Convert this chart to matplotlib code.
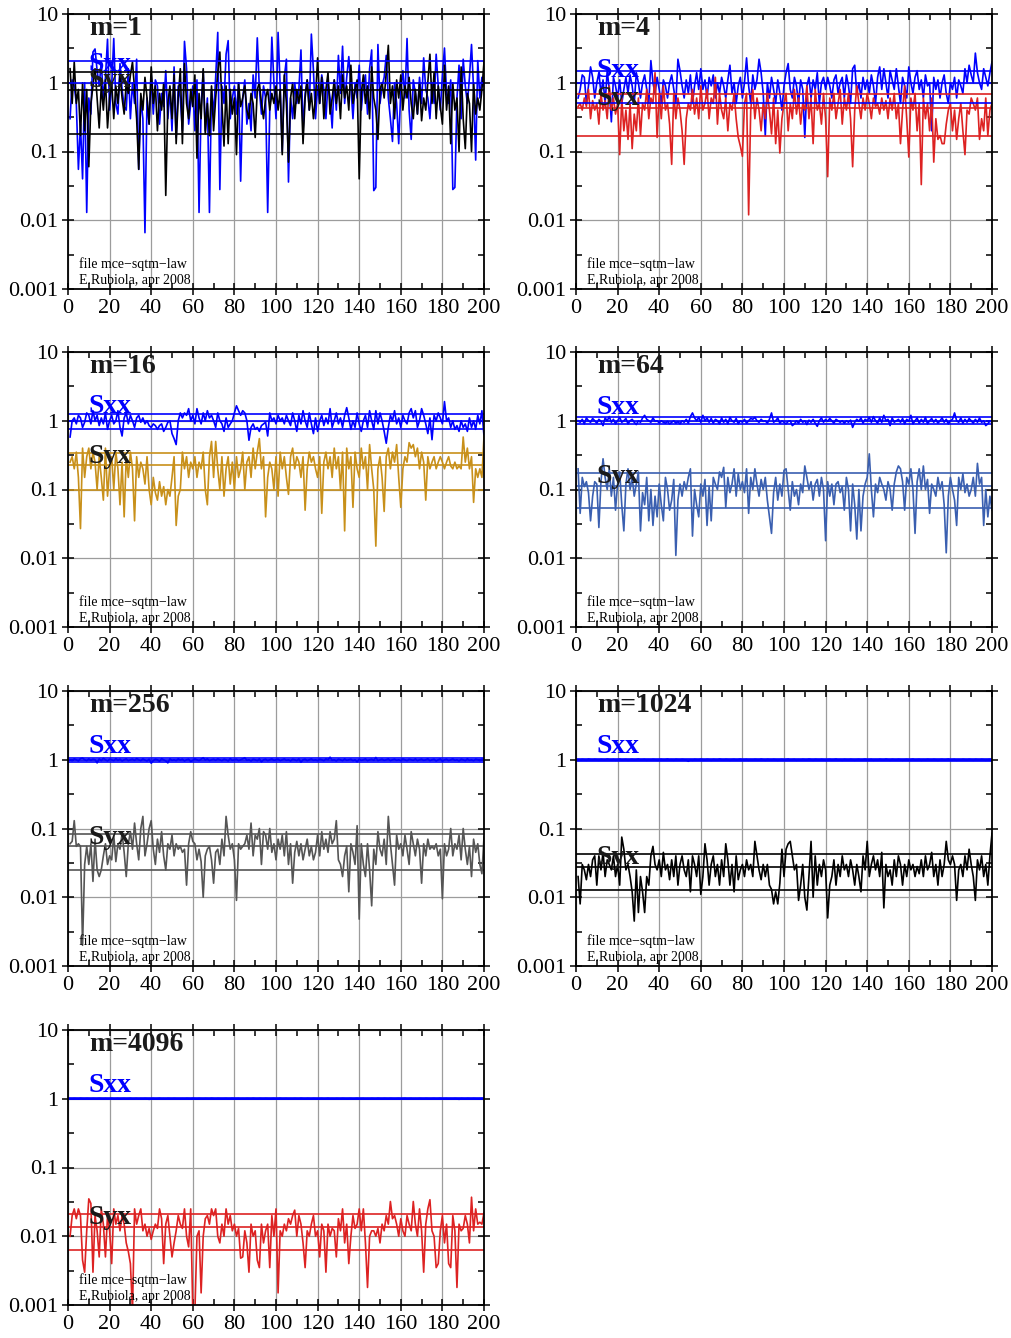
import numpy as np
import matplotlib
matplotlib.use("Agg")
import matplotlib.pyplot as plt
from matplotlib.ticker import FixedLocator, MultipleLocator, NullFormatter

plt.rcParams["font.family"] = ["Liberation Serif", "DejaVu Serif"]

# ---- data ----
m_values = [1, 4, 16, 64, 256, 1024, 4096]
syx_colors = ["black", "#dd2222", "#c8901a", "#3a5fb0", "#555555", "black", "#dd2222"]

sxx_m1 = [0.3, 1.1, 0.9, 0.5, 0.055, 0.25, 0.04, 1.0, 0.013, 0.6,
          0.35, 2.8, 3.1, 1.5, 0.9, 2.0, 0.6, 1.2, 4.3, 0.4,
          0.9, 4.4, 0.5, 0.35, 1.9, 0.8, 0.45, 0.4, 1.6, 0.3,
          1.0, 0.5, 2.2, 0.055, 0.6, 0.3, 0.0066, 0.6, 0.25, 1.3,
          0.35, 1.1, 0.9, 0.25, 0.7, 0.45, 1.5, 0.3, 0.8, 0.2,
          1.7, 0.16, 0.9, 0.6, 0.2, 4.0, 1.6, 0.25, 0.5, 0.9,
          0.2, 1.1, 0.013, 0.45, 1.5, 0.2, 0.6, 0.013, 0.8, 0.35,
          1.2, 5.4, 0.028, 0.9, 0.5, 2.6, 4.1, 0.3, 0.6, 0.9,
          0.35, 1.0, 0.037, 0.6, 1.1, 0.25, 0.5, 0.2, 1.3, 0.6,
          4.5, 0.8, 0.35, 0.9, 0.6, 0.013, 0.4, 4.6, 1.0, 0.3,
          5.4, 0.9, 0.1, 1.2, 2.2, 0.036, 0.6, 0.3, 1.0, 0.5,
          0.8, 3.0, 0.2, 0.7, 1.1, 0.4, 5.1, 1.5, 0.3, 0.9,
          0.5, 1.3, 0.8, 0.3, 1.0, 0.6, 0.22, 1.1, 0.4, 2.5,
          0.7, 3.4, 0.5, 1.2, 2.4, 0.9, 0.3, 1.0, 0.6, 1.8,
          0.4, 0.9, 1.3, 0.35, 1.6, 3.0, 0.027, 0.03, 3.6, 0.5,
          0.9, 1.2, 2.5, 0.6, 0.3, 0.14, 1.0, 0.5, 0.13, 0.8,
          1.5, 0.6, 4.4, 0.4, 0.15, 1.1, 0.7, 0.35, 1.2, 0.5,
          2.3, 0.8, 0.6, 0.3, 1.0, 0.5, 2.6, 0.9, 0.4, 1.3,
          3.2, 0.7, 0.5, 1.1, 0.028, 0.03, 0.6, 1.8, 0.3, 2.2,
          0.9, 0.5, 1.2, 3.6, 0.8, 0.075, 2.1, 0.6, 1.2, 0.9]

syx_m1 = [1.6, 0.5, 2.0, 0.5, 0.8, 0.17, 1.0, 0.2, 0.8, 0.06,
          0.5, 0.9, 1.6, 0.6, 0.22, 0.9, 0.4, 1.1, 0.22, 0.6,
          1.0, 0.3, 0.9, 0.5, 1.3, 0.6, 0.35, 1.0, 0.7, 1.3,
          2.0, 0.8, 0.3, 0.055, 0.7, 0.4, 1.2, 0.6, 0.25, 1.7,
          0.5, 0.9, 0.2, 0.7, 0.4, 1.0, 0.023, 0.5, 0.9, 0.3,
          1.3, 0.13, 0.6, 1.6, 0.13, 1.9, 0.5, 0.3, 0.8, 0.45,
          1.3, 0.08, 0.7, 0.3, 1.6, 0.18, 0.5, 0.17, 0.9, 0.2,
          0.6, 1.4, 2.8, 0.5, 0.12, 0.9, 0.13, 0.8, 0.35, 0.6,
          0.09, 1.0, 0.45, 0.6, 0.9, 0.4, 0.3, 0.7, 0.5, 0.16,
          0.8, 1.0, 0.5, 0.3, 0.6, 0.8, 0.4, 0.7, 0.5, 0.9,
          0.4, 0.8, 0.09, 1.3, 0.5, 0.07, 0.6, 1.0, 0.3, 0.8,
          0.5, 0.9, 0.13, 0.6, 1.1, 0.4, 0.7, 0.3, 0.6, 2.3,
          0.5, 1.2, 0.3, 0.8, 1.4, 0.35, 0.6, 1.1, 0.5, 0.9,
          0.3, 1.3, 0.6, 0.9, 0.4, 1.8, 0.5, 0.8, 1.1, 0.04,
          0.7, 1.3, 0.5, 0.9, 0.3, 1.7, 0.6, 0.4, 0.15, 0.8,
          1.0, 0.6, 1.4, 3.5, 0.5, 0.9, 0.3, 1.1, 0.6, 1.3,
          0.4, 0.9, 0.6, 1.2, 0.5, 0.3, 0.8, 0.35, 1.0, 0.28,
          0.6, 0.4, 1.0, 2.6, 0.5, 1.4, 0.3, 0.9, 0.45, 0.25,
          1.8, 0.4, 0.9, 0.13, 1.0, 0.4, 0.6, 0.1, 1.7, 0.3,
          0.11, 0.7, 0.5, 0.1, 1.0, 0.35, 0.6, 0.4, 0.8, 2.0]

sxx_m4 = [0.6, 0.8, 1.3, 1.2, 0.5, 0.9, 1.7, 1.2, 0.6, 1.0,
          1.4, 0.7, 1.1, 0.5, 1.5, 0.8, 0.27, 1.2, 0.9, 0.6,
          1.1, 0.5, 0.8, 1.2, 0.7, 1.3, 0.9, 0.5, 1.4, 1.0,
          0.6, 1.0, 1.3, 0.8, 0.5, 2.1, 1.0, 0.7, 1.2, 0.8,
          0.5, 1.1, 0.9, 0.6, 1.0, 1.3, 0.8, 0.5, 2.2, 1.5,
          0.9, 0.6, 1.1, 0.7, 1.3, 0.5, 0.9, 1.4, 0.8, 1.6,
          0.8, 1.1, 0.6, 1.2, 0.9, 1.3, 0.6, 1.0, 0.7, 1.2,
          0.9, 0.6, 1.1, 1.8, 0.7, 1.0, 0.5, 0.9, 1.2, 0.6,
          1.0, 2.3, 0.9, 0.5, 1.3, 0.8, 1.1, 2.2, 1.4, 0.7,
          0.17, 1.0, 0.6, 1.2, 0.8, 0.5, 1.1, 0.7, 0.4, 0.9,
          1.4, 1.9, 0.8, 0.6, 1.2, 0.9, 0.5, 1.1, 0.8, 0.16,
          0.9, 1.2, 0.6, 1.1, 0.8, 1.4, 0.5, 1.0, 1.2, 0.8,
          1.2, 0.9, 0.6, 1.1, 1.3, 0.7, 1.0, 1.2, 0.6, 1.3,
          0.9, 0.5, 1.6, 1.8, 0.7, 1.0, 0.6, 1.2, 0.8, 1.1,
          0.7, 1.3, 0.9, 0.5, 1.2, 1.7, 0.8, 1.6, 1.0, 0.6,
          1.5, 1.1, 0.8, 1.6, 0.9, 0.5, 1.2, 0.9, 0.6, 1.7,
          1.0, 0.7, 1.2, 1.5, 0.8, 1.1, 0.6, 1.3, 0.9, 1.0,
          0.2, 1.2, 0.8, 1.1, 0.6, 1.0, 1.3, 0.7, 0.5, 1.0,
          0.8, 1.2, 0.6, 1.1, 0.9, 0.7, 1.6, 1.0, 1.8, 1.3,
          1.0, 2.7, 1.4, 1.0, 0.8, 1.6, 1.2, 0.9, 1.4, 2.0]

syx_m4 = [0.45, 0.5, 0.4, 0.6, 0.45, 0.8, 0.3, 0.55, 0.4, 0.5,
          0.25, 0.7, 0.4, 0.55, 0.3, 0.9, 0.4, 0.6, 0.35, 0.5,
          0.09, 0.6, 0.2, 0.4, 0.15, 0.5, 0.11, 0.35, 0.2, 0.6,
          0.17, 0.5, 0.4, 0.8, 0.3, 0.6, 0.5, 1.4, 0.16, 0.7,
          0.3, 0.9, 0.4, 0.5, 0.25, 0.065, 0.7, 0.3, 0.6, 0.4,
          0.2, 0.065, 0.3, 0.5, 0.4, 0.8, 0.35, 0.6, 0.3, 0.9,
          0.4, 0.5, 0.8, 0.3, 0.6, 0.5, 1.2, 0.25, 0.7, 0.4,
          0.3, 0.6, 0.2, 0.5, 0.4, 0.7, 0.3, 0.16, 0.12, 0.085,
          0.5, 0.7, 0.012, 0.4, 0.8, 0.3, 0.6, 0.4, 0.2, 0.5,
          0.3, 0.7, 0.4, 0.18, 0.6, 0.13, 0.4, 0.095, 0.3, 0.5,
          0.7, 0.2, 0.5, 0.3, 0.8, 0.35, 0.6, 0.25, 0.5, 0.4,
          0.9, 0.3, 0.6, 0.13, 0.8, 0.4, 0.5, 0.25, 0.7, 0.3,
          0.043, 0.6, 0.4, 0.7, 0.3, 0.5, 0.8, 0.25, 0.6, 0.4,
          0.7, 0.3, 0.06, 0.4, 0.9, 0.5, 0.3, 0.6, 0.4, 0.7,
          0.5, 0.3, 0.6, 0.45, 0.5, 0.35, 0.6, 0.4, 0.55, 0.3,
          0.6, 0.4, 0.7, 0.3, 0.5, 0.13, 0.4, 0.9, 0.3, 0.083,
          0.6, 0.4, 0.7, 0.2, 0.5, 0.033, 0.6, 0.3, 0.5, 0.2,
          0.6, 0.07, 0.3, 0.15, 0.17, 0.13, 0.13, 0.25, 0.4, 0.5,
          0.2, 0.4, 0.15, 0.3, 0.5, 0.2, 0.09, 0.4, 0.35, 0.6,
          0.5, 0.4, 0.6, 0.15, 0.3, 0.2, 0.6, 0.17, 0.4, 0.5]

sxx_m16 = [0.58, 1.0, 1.1, 0.9, 1.2, 1.1, 0.8, 0.95, 1.3, 1.2,
           0.9, 1.4, 1.0, 1.2, 0.85, 1.1, 0.9, 1.3, 0.75, 1.0,
           1.2, 0.9, 1.0, 1.4, 0.8, 0.6, 1.1, 1.3, 0.9, 1.2,
           1.0, 0.8, 1.1, 1.2, 0.95, 1.1, 0.9, 1.0, 0.85, 0.8,
           0.9, 0.85, 0.75, 0.85, 0.9, 0.7, 0.8, 0.95, 1.0, 0.65,
           0.55, 0.45, 1.0, 1.3, 1.1, 1.3, 1.2, 1.5, 1.0, 1.2,
           0.9, 1.5, 1.1, 0.9, 1.3, 1.0, 1.4, 1.1, 1.2, 1.0,
           0.8, 1.3, 1.0, 0.9, 0.7, 1.1, 0.8, 0.9, 1.0, 1.3,
           1.65, 1.4, 1.2, 1.4, 1.3, 1.0, 0.52, 0.8, 0.9, 0.75,
           0.8, 0.7, 0.85, 0.9, 0.95, 0.6, 1.3, 1.0, 1.1, 0.9,
           1.2, 1.0, 1.1, 0.9, 1.2, 1.0, 0.85, 1.3, 1.0, 0.7,
           1.2, 0.9, 1.4, 1.0, 0.8, 1.3, 0.9, 0.65, 1.1, 0.7,
           1.0, 1.2, 0.85, 1.1, 0.9, 1.5, 0.8, 1.0, 1.3, 0.9,
           1.1, 0.8, 1.2, 1.55, 1.1, 0.75, 1.0, 0.8, 1.3, 0.9,
           0.7, 1.0, 1.2, 0.8, 1.4, 1.0, 0.75, 1.4, 0.9, 1.3,
           1.0, 0.7, 0.47, 0.8, 1.2, 1.0, 1.4, 0.9, 1.1, 0.8,
           1.2, 1.0, 0.9, 1.3, 1.5, 1.1, 1.4, 0.8, 1.0, 1.5,
           1.2, 0.9, 0.65, 1.1, 0.53, 1.2, 1.0, 1.3, 1.1, 0.9,
           1.9, 1.0, 1.1, 0.8, 1.0, 0.75, 0.85, 0.7, 1.0, 0.8,
           0.9, 0.7, 1.1, 0.8, 1.0, 0.75, 1.2, 0.9, 1.4, 0.6]

syx_m16 = [0.25, 0.3, 0.2, 0.35, 0.15, 0.027, 0.4, 0.15, 0.3, 0.4,
           0.2, 0.35, 0.25, 0.1, 0.3, 0.15, 0.07, 0.4, 0.08, 0.2,
           0.3, 0.1, 0.35, 0.2, 0.06, 0.25, 0.04, 0.3, 0.15, 0.35,
           0.2, 0.035, 0.3, 0.15, 0.25, 0.2, 0.12, 0.3, 0.1, 0.06,
           0.15, 0.09, 0.07, 0.13, 0.08, 0.11, 0.06, 0.1, 0.08, 0.15,
           0.3, 0.03, 0.08, 0.1, 0.35, 0.2, 0.3, 0.15, 0.25, 0.2,
           0.3, 0.15, 0.25, 0.2, 0.35, 0.1, 0.06, 0.3, 0.5, 0.15,
           0.5, 0.2, 0.1, 0.3, 0.08, 0.2, 0.3, 0.12, 0.25, 0.1,
           0.3, 0.15, 0.2, 0.35, 0.1, 0.25, 0.3, 0.15, 0.4, 0.2,
           0.35, 0.55, 0.2, 0.3, 0.04, 0.15, 0.25, 0.2, 0.1, 0.3,
           0.08, 0.35, 0.2, 0.3, 0.15, 0.085, 0.3, 0.4, 0.2, 0.3,
           0.25, 0.15, 0.3, 0.05, 0.2, 0.35, 0.25, 0.3, 0.2, 0.15,
           0.3, 0.045, 0.25, 0.35, 0.2, 0.3, 0.15, 0.4, 0.2, 0.3,
           0.1, 0.35, 0.025, 0.4, 0.2, 0.3, 0.055, 0.35, 0.2, 0.15,
           0.4, 0.2, 0.3, 0.1, 0.45, 0.2, 0.1, 0.015, 0.2, 0.3,
           0.15, 0.048, 0.3, 0.4, 0.2, 0.35, 0.25, 0.45, 0.15, 0.055,
           0.2, 0.3, 0.25, 0.48, 0.4, 0.45, 0.3, 0.4, 0.2, 0.35,
           0.25, 0.07, 0.3, 0.2, 0.25, 0.3, 0.2, 0.25, 0.3, 0.25,
           0.2, 0.25, 0.3, 0.22, 0.2, 0.25, 0.2, 0.22, 0.2, 0.58,
           0.25, 0.4, 0.2, 0.3, 0.065, 0.2, 0.15, 0.2, 0.15, 0.6]

sxx_m64 = [1.0, 0.95, 1.05, 0.9, 1.1, 1.0, 0.95, 1.08, 1.0, 0.92,
           1.05, 0.98, 0.85, 1.1, 1.0, 1.15, 0.95, 1.05, 0.9, 1.0,
           1.12, 0.95, 1.0, 1.08, 0.9, 1.0, 1.05, 0.95, 0.88, 1.0,
           0.95, 1.1, 1.2, 1.05, 1.0, 0.95, 1.1, 0.98, 1.0, 0.93,
           1.0, 0.95, 0.92, 0.98, 0.9, 0.95, 1.0, 0.92, 0.97, 0.9,
           1.0, 0.95, 1.05, 0.92, 1.15, 1.3, 1.1, 1.0, 1.12, 0.95,
           1.2, 1.0, 1.1, 0.95, 1.08, 0.92, 1.05, 1.0, 0.9, 1.1,
           0.95, 1.05, 0.9, 1.12, 1.0, 0.95, 1.08, 0.9, 1.0, 0.95,
           1.05, 0.92, 1.0, 1.08, 1.05, 1.12, 1.0, 0.95, 1.05, 0.98,
           1.0, 0.92, 1.05, 1.3, 0.95, 1.0, 1.1, 0.92, 1.0, 0.95,
           0.9, 0.98, 1.0, 0.85, 0.9, 1.0, 0.92, 1.05, 0.95, 1.0,
           0.88, 1.02, 0.95, 1.05, 0.92, 0.83, 1.0, 1.1, 0.95, 1.05,
           0.98, 1.08, 1.0, 0.92, 1.05, 1.0, 0.95, 1.0, 0.92, 1.0,
           0.95, 1.02, 0.8, 0.95, 1.05, 0.98, 1.1, 0.92, 1.05, 1.0,
           1.12, 0.95, 1.15, 1.0, 0.92, 1.1, 0.95, 1.2, 1.0, 1.05,
           0.85, 1.1, 0.95, 1.0, 1.05, 0.95, 1.08, 0.9, 1.05, 0.98,
           1.2, 0.9, 1.0, 1.1, 0.92, 1.05, 0.95, 1.12, 0.9, 1.0,
           1.08, 0.95, 1.05, 0.92, 1.0, 1.1, 0.95, 1.05, 0.9, 1.0,
           1.05, 1.3, 1.0, 0.95, 1.1, 0.92, 1.05, 0.95, 1.08, 1.0,
           0.92, 1.05, 0.95, 1.1, 0.95, 1.0, 0.85, 0.9, 1.0, 0.95]

syx_m64 = [0.2, 0.045, 0.15, 0.11, 0.13, 0.09, 0.035, 0.08, 0.13, 0.12,
           0.028, 0.13, 0.28, 0.15, 0.1, 0.2, 0.08, 0.15, 0.05, 0.12,
           0.18, 0.06, 0.025, 0.12, 0.2, 0.1, 0.15, 0.08, 0.12, 0.18,
           0.025, 0.09, 0.06, 0.15, 0.035, 0.1, 0.03, 0.08, 0.04, 0.12,
           0.06, 0.035, 0.15, 0.1, 0.05, 0.07, 0.14, 0.011, 0.07, 0.12,
           0.08, 0.13, 0.1, 0.15, 0.2, 0.021, 0.1, 0.06, 0.04, 0.12,
           0.08, 0.14, 0.03, 0.11, 0.035, 0.15, 0.12, 0.1, 0.18, 0.15,
           0.21, 0.055, 0.15, 0.09, 0.12, 0.2, 0.08, 0.17, 0.1, 0.13,
           0.09, 0.2, 0.045, 0.15, 0.1, 0.2, 0.12, 0.08, 0.14, 0.1,
           0.15, 0.07, 0.04, 0.023, 0.09, 0.15, 0.07, 0.12, 0.08, 0.19,
           0.2, 0.1, 0.05, 0.13, 0.08, 0.1, 0.06, 0.12, 0.09, 0.22,
           0.15, 0.1, 0.13, 0.07, 0.12, 0.14, 0.08, 0.15, 0.1, 0.018,
           0.13, 0.08, 0.12, 0.06, 0.12, 0.13, 0.09, 0.11, 0.05, 0.15,
           0.1, 0.025, 0.12, 0.06, 0.019, 0.1, 0.025, 0.08, 0.12, 0.15,
           0.33, 0.1, 0.04, 0.12, 0.09, 0.15, 0.12, 0.1, 0.07, 0.13,
           0.1, 0.05, 0.12, 0.18, 0.22, 0.2, 0.13, 0.05, 0.15, 0.12,
           0.2, 0.1, 0.023, 0.13, 0.2, 0.1, 0.22, 0.1, 0.14, 0.045,
           0.12, 0.1, 0.08, 0.15, 0.1, 0.13, 0.06, 0.012, 0.08, 0.15,
           0.1, 0.07, 0.03, 0.15, 0.1, 0.17, 0.09, 0.12, 0.08, 0.1,
           0.15, 0.08, 0.24, 0.12, 0.15, 0.03, 0.1, 0.04, 0.08, 0.05]

sxx_m256 = [1.0, 0.97, 1.03, 1.0, 0.96, 1.04, 1.06, 1.0, 0.97, 1.03,
            0.98, 1.02, 1.0, 0.9, 1.03, 0.97, 1.05, 1.0, 0.96, 1.02,
            1.0, 0.97, 1.04, 0.98, 1.02, 0.96, 1.0, 1.03, 0.97, 1.0,
            1.02, 0.98, 1.04, 1.0, 0.97, 1.03, 0.99, 0.96, 1.02, 0.89,
            0.97, 1.02, 1.0, 0.95, 1.04, 1.0, 0.96, 0.9, 1.03, 0.98,
            1.0, 0.97, 1.03, 0.99, 1.02, 0.96, 1.0, 1.02, 0.94, 0.98,
            1.03, 1.0, 0.97, 1.02, 1.07, 0.99, 1.03, 0.97, 1.0, 1.02,
            0.98, 1.03, 1.0, 0.97, 1.02, 1.0, 0.96, 1.04, 0.98, 1.0,
            1.02, 0.97, 1.0, 1.03, 1.07, 0.98, 1.0, 0.96, 1.02, 1.0,
            0.97, 1.03, 0.93, 1.0, 1.02, 0.97, 1.0, 1.03, 0.98, 1.0,
            1.02, 0.97, 1.0, 1.03, 0.98, 1.0, 0.96, 1.02, 1.0, 0.97,
            1.03, 0.92, 1.0, 1.02, 0.97, 1.0, 1.03, 0.98, 1.0, 0.97,
            1.02, 1.0, 0.97, 1.03, 1.0, 1.09, 0.98, 1.0, 0.96, 1.02,
            1.0, 0.97, 1.03, 0.98, 1.0, 1.02, 0.97, 1.0, 0.93, 1.02,
            0.98, 1.0, 1.03, 0.97, 1.0, 1.02, 0.98, 1.08, 0.97, 1.0,
            1.02, 0.98, 1.0, 1.03, 0.97, 1.0, 1.02, 0.98, 1.0, 0.97,
            1.03, 1.0, 0.97, 1.02, 1.0, 0.98, 1.03, 0.97, 1.0, 1.02,
            0.98, 1.0, 1.03, 0.97, 1.0, 1.02, 0.96, 1.0, 1.03, 0.95,
            1.0, 1.02, 0.97, 1.0, 1.03, 0.98, 1.0, 0.96, 1.02, 1.0,
            0.97, 1.03, 0.98, 1.0, 0.97, 1.02, 1.0, 0.97, 1.02, 1.0]

syx_m256 = [0.06, 0.065, 0.13, 0.055, 0.06, 0.055, 0.002, 0.03, 0.055, 0.03,
            0.06, 0.017, 0.07, 0.025, 0.02, 0.025, 0.04, 0.06, 0.03, 0.04,
            0.035, 0.08, 0.033, 0.06, 0.05, 0.085, 0.045, 0.02, 0.06, 0.09,
            0.05, 0.12, 0.06, 0.035, 0.1, 0.15, 0.04, 0.06, 0.1, 0.13,
            0.05, 0.03, 0.07, 0.045, 0.09, 0.04, 0.025, 0.06, 0.05, 0.08,
            0.04, 0.06, 0.05, 0.055, 0.045, 0.05, 0.015, 0.06, 0.09, 0.065,
            0.06, 0.035, 0.05, 0.033, 0.01, 0.04, 0.05, 0.055, 0.035, 0.016,
            0.045, 0.05, 0.03, 0.07, 0.04, 0.15, 0.08, 0.05, 0.06, 0.035,
            0.009, 0.06, 0.05, 0.055, 0.06, 0.08, 0.05, 0.12, 0.04, 0.08,
            0.07, 0.1, 0.03, 0.09, 0.08, 0.05, 0.1, 0.045, 0.06, 0.035,
            0.07, 0.05, 0.08, 0.04, 0.09, 0.03, 0.06, 0.016, 0.045, 0.065,
            0.04, 0.06, 0.035, 0.05, 0.07, 0.04, 0.055, 0.035, 0.045, 0.08,
            0.04, 0.09, 0.05, 0.07, 0.045, 0.09, 0.06, 0.07, 0.13, 0.035,
            0.03, 0.02, 0.04, 0.055, 0.012, 0.06, 0.045, 0.03, 0.11, 0.0048,
            0.06, 0.03, 0.02, 0.06, 0.025, 0.0075, 0.05, 0.03, 0.09, 0.05,
            0.04, 0.07, 0.03, 0.15, 0.06, 0.03, 0.015, 0.08, 0.05, 0.06,
            0.04, 0.08, 0.05, 0.03, 0.09, 0.06, 0.04, 0.07, 0.05, 0.016,
            0.06, 0.04, 0.07, 0.05, 0.055, 0.05, 0.06, 0.04, 0.05, 0.0095,
            0.06, 0.04, 0.05, 0.1, 0.04, 0.06, 0.05, 0.08, 0.035, 0.1,
            0.05, 0.03, 0.055, 0.02, 0.07, 0.045, 0.06, 0.03, 0.022, 0.075]

sxx_m1024 = [1.0, 0.99, 1.01, 1.0, 0.98, 1.02, 1.0, 0.99, 1.01, 1.0,
             0.98, 1.01, 1.0, 0.99, 1.02, 1.0, 0.99, 1.01, 0.98, 1.0,
             1.02, 0.99, 1.0, 1.01, 0.98, 1.0, 1.01, 0.99, 1.0, 1.02,
             0.99, 1.0, 1.01, 0.98, 1.0, 0.99, 1.01, 1.0, 0.98, 1.0,
             1.01, 0.99, 1.0, 1.02, 0.99, 1.0, 0.98, 1.01, 1.0, 0.99,
             1.01, 1.0, 0.99, 0.95, 1.0, 0.98, 1.01, 1.0, 0.99, 1.02,
             1.0, 0.99, 1.01, 1.0, 0.98, 1.01, 1.0, 0.99, 1.02, 1.0,
             0.99, 1.01, 1.0, 0.98, 1.0, 1.01, 0.99, 1.0, 1.02, 0.99,
             1.0, 1.01, 0.98, 1.0, 0.99, 1.01, 1.0, 0.99, 1.02, 1.0,
             0.98, 1.01, 1.0, 0.99, 1.01, 1.0, 0.98, 1.0, 1.01, 0.99,
             1.0, 1.02, 0.99, 1.0, 1.01, 0.98, 1.0, 0.99, 1.01, 1.0,
             0.99, 1.02, 1.0, 0.98, 1.01, 1.0, 0.99, 1.01, 1.0, 0.98,
             1.0, 1.01, 0.99, 1.0, 1.02, 0.99, 1.0, 0.98, 1.01, 1.0,
             0.99, 1.01, 1.0, 0.98, 1.0, 1.01, 0.99, 1.0, 1.02, 0.99,
             1.0, 1.01, 0.98, 1.0, 0.99, 1.01, 1.0, 0.99, 1.02, 1.0,
             0.98, 1.01, 1.0, 0.99, 1.01, 1.0, 0.98, 1.0, 1.01, 0.99,
             1.0, 1.02, 0.99, 1.0, 1.01, 0.98, 1.0, 0.99, 1.01, 1.0,
             0.99, 1.01, 1.0, 0.98, 1.0, 1.01, 0.99, 1.0, 1.02, 0.99,
             1.0, 1.01, 0.98, 1.0, 0.99, 1.01, 1.0, 0.99, 1.01, 1.0,
             0.98, 1.01, 1.0, 0.99, 1.01, 1.0, 0.98, 1.0, 1.01, 1.0]

syx_m1024 = [0.02, 0.008, 0.03, 0.025, 0.018, 0.03, 0.02, 0.035, 0.04, 0.015,
             0.04, 0.025, 0.045, 0.02, 0.035, 0.03, 0.025, 0.04, 0.02, 0.03,
             0.015, 0.075, 0.05, 0.025, 0.03, 0.02, 0.012, 0.0045, 0.025, 0.006,
             0.02, 0.012, 0.006, 0.02, 0.015, 0.04, 0.055, 0.03, 0.025, 0.035,
             0.02, 0.045, 0.025, 0.03, 0.018, 0.035, 0.02, 0.04, 0.015, 0.03,
             0.04, 0.025, 0.02, 0.035, 0.012, 0.04, 0.03, 0.02, 0.04, 0.011,
             0.02, 0.06, 0.035, 0.015, 0.03, 0.04, 0.02, 0.03, 0.015, 0.035,
             0.02, 0.06, 0.035, 0.015, 0.03, 0.012, 0.04, 0.018, 0.025, 0.03,
             0.02, 0.035, 0.025, 0.03, 0.02, 0.065, 0.04, 0.025, 0.018, 0.03,
             0.02, 0.03, 0.015, 0.013, 0.008, 0.012, 0.008, 0.016, 0.05, 0.02,
             0.05, 0.06, 0.065, 0.04, 0.025, 0.03, 0.009, 0.015, 0.03, 0.01,
             0.0065, 0.02, 0.065, 0.01, 0.04, 0.015, 0.03, 0.02, 0.035, 0.025,
             0.005, 0.015, 0.02, 0.035, 0.015, 0.03, 0.02, 0.04, 0.025, 0.03,
             0.02, 0.035, 0.025, 0.015, 0.03, 0.02, 0.012, 0.04, 0.025, 0.065,
             0.02, 0.03, 0.04, 0.025, 0.035, 0.02, 0.045, 0.007, 0.03, 0.02,
             0.025, 0.015, 0.035, 0.02, 0.04, 0.03, 0.015, 0.03, 0.02, 0.035,
             0.025, 0.03, 0.02, 0.028, 0.022, 0.035, 0.02, 0.04, 0.025, 0.03,
             0.045, 0.02, 0.03, 0.015, 0.035, 0.02, 0.03, 0.065, 0.035, 0.03,
             0.04, 0.03, 0.009, 0.025, 0.03, 0.02, 0.04, 0.025, 0.05, 0.03,
             0.02, 0.009, 0.035, 0.025, 0.04, 0.02, 0.03, 0.015, 0.04, 0.085]

sxx_m4096 = [1.0, 0.995, 1.005, 1.0, 0.99, 1.01, 1.0, 0.995, 1.005, 1.0,
             0.99, 1.005, 1.0, 0.995, 1.01, 1.0, 0.995, 1.005, 0.99, 1.0,
             1.01, 0.995, 1.0, 1.005, 0.99, 1.0, 1.005, 0.995, 1.0, 1.01,
             0.995, 1.0, 1.005, 0.99, 1.0, 0.995, 1.005, 1.0, 0.98, 1.0,
             1.005, 0.995, 1.0, 1.01, 0.995, 1.0, 0.99, 1.005, 1.0, 0.995,
             1.005, 1.0, 0.995, 0.99, 1.0, 0.99, 1.005, 1.0, 0.995, 1.01,
             1.0, 0.995, 1.005, 1.0, 0.99, 1.005, 1.0, 0.995, 1.01, 1.0,
             0.995, 1.005, 1.0, 0.99, 1.0, 1.005, 0.995, 1.0, 1.01, 0.995,
             1.0, 1.005, 0.99, 1.0, 0.995, 1.005, 1.0, 0.995, 1.01, 1.0,
             0.99, 1.005, 1.0, 0.995, 1.005, 1.0, 0.99, 1.0, 1.005, 0.995,
             1.0, 1.01, 0.995, 1.0, 1.005, 0.99, 1.0, 0.995, 1.005, 1.0,
             0.995, 1.01, 1.0, 0.99, 1.005, 1.0, 0.995, 1.005, 1.0, 0.99,
             1.0, 1.005, 0.995, 1.0, 1.01, 0.995, 1.0, 0.99, 1.005, 1.0,
             0.995, 1.005, 1.0, 0.99, 1.0, 1.005, 0.995, 1.0, 1.01, 0.995,
             1.0, 1.005, 0.99, 1.0, 0.995, 1.005, 1.0, 0.995, 1.01, 1.0,
             0.99, 1.005, 1.0, 0.995, 1.005, 1.0, 0.99, 1.0, 1.005, 0.995,
             1.0, 1.01, 0.995, 1.0, 1.005, 0.99, 1.0, 0.995, 1.005, 1.0,
             0.995, 1.005, 1.0, 0.99, 1.0, 1.005, 0.995, 1.0, 1.01, 0.995,
             1.0, 1.005, 0.99, 1.0, 0.995, 1.005, 1.0, 0.98, 1.005, 1.0,
             0.99, 1.005, 1.0, 0.995, 1.005, 1.0, 0.99, 1.0, 1.005, 1.0]

syx_m4096 = [0.01, 0.02, 0.025, 0.018, 0.025, 0.02, 0.0045, 0.003, 0.012, 0.035,
             0.03, 0.003, 0.02, 0.012, 0.005, 0.025, 0.015, 0.005, 0.02, 0.012,
             0.004, 0.025, 0.015, 0.02, 0.012, 0.02, 0.015, 0.008, 0.006, 0.004,
             0.0008, 0.025, 0.015, 0.02, 0.025, 0.012, 0.015, 0.01, 0.013, 0.009,
             0.012, 0.015, 0.013, 0.025, 0.018, 0.004, 0.015, 0.02, 0.01, 0.005,
             0.008, 0.012, 0.02, 0.015, 0.013, 0.025, 0.01, 0.007, 0.025, 0.0008,
             0.0008, 0.01, 0.012, 0.0015, 0.01, 0.018, 0.02, 0.015, 0.025, 0.02,
             0.025, 0.01, 0.008, 0.015, 0.01, 0.025, 0.015, 0.02, 0.012, 0.015,
             0.01, 0.013, 0.0048, 0.005, 0.012, 0.008, 0.003, 0.015, 0.01, 0.012,
             0.0045, 0.0035, 0.015, 0.008, 0.012, 0.015, 0.0035, 0.02, 0.01, 0.025,
             0.0015, 0.012, 0.01, 0.015, 0.012, 0.018, 0.015, 0.02, 0.024, 0.01,
             0.02, 0.015, 0.008, 0.0035, 0.012, 0.01, 0.015, 0.02, 0.01, 0.012,
             0.005, 0.015, 0.012, 0.003, 0.015, 0.01, 0.013, 0.012, 0.005, 0.018,
             0.012, 0.025, 0.008, 0.015, 0.004, 0.01, 0.02, 0.013, 0.015, 0.025,
             0.012, 0.025, 0.008, 0.0018, 0.01, 0.012, 0.012, 0.01, 0.013, 0.008,
             0.015, 0.012, 0.02, 0.015, 0.032, 0.018, 0.02, 0.015, 0.01, 0.018,
             0.012, 0.01, 0.02, 0.015, 0.012, 0.032, 0.015, 0.01, 0.025, 0.012,
             0.003, 0.015, 0.025, 0.034, 0.012, 0.01, 0.0035, 0.004, 0.012, 0.02,
             0.008, 0.015, 0.004, 0.0035, 0.02, 0.012, 0.0018, 0.015, 0.012, 0.013,
             0.02, 0.015, 0.008, 0.037, 0.012, 0.025, 0.015, 0.016, 0.015, 0.022]

sxx_series = [sxx_m1, sxx_m4, sxx_m16, sxx_m64, sxx_m256, sxx_m1024, sxx_m4096]
syx_series = [syx_m1, syx_m4, syx_m16, syx_m64, syx_m256, syx_m1024, syx_m4096]

# horizontal reference levels (upper, middle, lower)
sxx_levels = [[2.1, 1.0], [1.48, 1.0, 0.5], [1.27, 1.0, 0.76], [1.13, 1.0, 0.89],
              [1.06, 1.0, 0.94], [1.03, 1.0, 0.97], [1.015, 1.0, 0.985]]
syx_levels = [[1.41, 0.78, 0.18], [0.69, 0.43, 0.17], [0.344, 0.224, 0.099],
              [0.176, 0.113, 0.054], [0.084, 0.055, 0.025], [0.042, 0.0275, 0.0129],
              [0.0212, 0.0137, 0.0063]]

ytick_vals = [0.001, 0.01, 0.1, 1, 10]
ytick_labels = ["0.001", "0.01", "0.1", "1", "10"]

x = np.arange(1, 201)

# ---- layout ----
W, H = 1011, 1338
col_left = [68, 576]
row_top = [14, 352, 691, 1030]
ax_w, ax_h = 416, 275
sxx_label_y = [1.5, 1.22, 1.28, 1.25, 1.25, 1.25, 1.25]

fig = plt.figure(figsize=(W / 100, H / 100), dpi=100)

for i, m in enumerate(m_values):
    col, row = i % 2, i // 2
    ax = fig.add_axes([col_left[col] / W, (H - row_top[row] - ax_h) / H, ax_w / W, ax_h / H])
    ax.set_yscale("log")
    ax.set_xlim(0, 200)
    ax.set_ylim(0.001, 10)
    ax.set_axisbelow(True)

    ax.set_xticks(range(0, 201, 20))
    ax.xaxis.set_minor_locator(MultipleLocator(10))
    ax.yaxis.set_major_locator(FixedLocator(ytick_vals))
    ax.set_yticklabels(ytick_labels)
    ax.yaxis.set_minor_locator(FixedLocator([10 ** (k + 0.5) for k in range(-3, 1)]))
    ax.yaxis.set_minor_formatter(NullFormatter())
    ax.grid(True, which="major", color="#9c9c9c", lw=0.9)
    ax.tick_params(which="major", direction="inout", length=8, width=1.1,
                   top=True, right=True, labelsize=16, pad=3)
    ax.tick_params(which="minor", direction="in", length=4, width=1.1,
                   top=True, right=True)
    for sp in ax.spines.values():
        sp.set_linewidth(1.3)

    c = syx_colors[i]
    ax.plot(x, sxx_series[i], color="#0000ff", lw=1.2)
    ax.plot(x, syx_series[i], color=c, lw=1.2)
    for lv in sxx_levels[i]:
        ax.axhline(lv, color="#0000ff", lw=1.2)
    for lv in syx_levels[i]:
        ax.axhline(lv, color=c, lw=1.2)

    ax.text(10, 5.0, f"m={m}", fontsize=20, fontweight="bold", va="baseline", color="#1a1a1a")
    ax.text(10, sxx_label_y[i], "Sxx", fontsize=20, fontweight="bold", va="baseline", color="#0000ff")
    ax.text(10, syx_levels[i][1] * 1.1, "Syx", fontsize=20, fontweight="bold", va="baseline", color="#1a1a1a")
    ax.text(5.3, 0.00205, "file mce\u2212sqtm\u2212law", fontsize=10, va="baseline")
    ax.text(5.3, 0.0012, "E.Rubiola, apr 2008", fontsize=10, va="baseline")

fig.savefig("out.png", dpi=100)
